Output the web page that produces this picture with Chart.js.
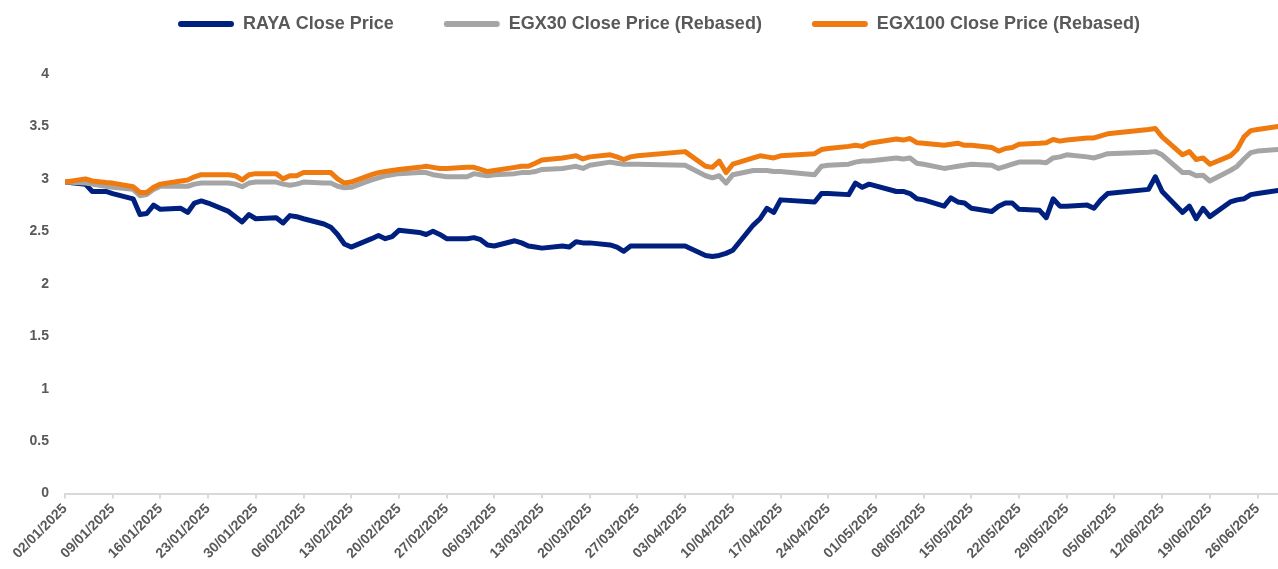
<!DOCTYPE html>
<html>
<head>
<meta charset="utf-8">
<script src="https://cdn.jsdelivr.net/npm/chart.js@4.4.1/dist/chart.umd.min.js"></script>
<style>
  html, body { margin: 0; padding: 0; background: #fff; }
  #wrap { width: 1278px; height: 569px; position: relative; }
</style>
</head>
<body>
<div id="wrap"><canvas id="chart"></canvas></div>
<script>
// trading days (dd/mm/yyyy)
const tradeDates = [
	'02/01/2025','05/01/2025','06/01/2025','08/01/2025','09/01/2025',
	'12/01/2025','13/01/2025','14/01/2025','15/01/2025','16/01/2025',
	'19/01/2025','20/01/2025','21/01/2025','22/01/2025','23/01/2025',
	'26/01/2025','27/01/2025','28/01/2025','29/01/2025','30/01/2025',
	'02/02/2025','03/02/2025','04/02/2025','05/02/2025','06/02/2025',
	'09/02/2025','10/02/2025','11/02/2025','12/02/2025','13/02/2025',
	'16/02/2025','17/02/2025','18/02/2025','19/02/2025','20/02/2025',
	'23/02/2025','24/02/2025','25/02/2025','26/02/2025','27/02/2025',
	'02/03/2025','03/03/2025','04/03/2025','05/03/2025','06/03/2025',
	'09/03/2025','10/03/2025','11/03/2025','12/03/2025','13/03/2025',
	'16/03/2025','17/03/2025','18/03/2025','19/03/2025','20/03/2025',
	'23/03/2025','24/03/2025','25/03/2025','26/03/2025','27/03/2025',
	'03/04/2025',
	'06/04/2025','07/04/2025','08/04/2025','09/04/2025','10/04/2025',
	'13/04/2025','14/04/2025','15/04/2025','16/04/2025','17/04/2025',
	'22/04/2025','23/04/2025','24/04/2025',
	'27/04/2025','28/04/2025','29/04/2025','30/04/2025',
	'04/05/2025','05/05/2025','06/05/2025','07/05/2025','08/05/2025',
	'11/05/2025','12/05/2025','13/05/2025','14/05/2025','15/05/2025',
	'18/05/2025','19/05/2025','20/05/2025','21/05/2025','22/05/2025',
	'25/05/2025','26/05/2025','27/05/2025','28/05/2025','29/05/2025',
	'01/06/2025','02/06/2025','03/06/2025','04/06/2025',
	'10/06/2025','11/06/2025','12/06/2025',
	'15/06/2025','16/06/2025','17/06/2025','18/06/2025','19/06/2025',
	'22/06/2025','23/06/2025','24/06/2025','25/06/2025','26/06/2025',
	'29/06/2025'
];

const rayaClose = [
	2.97, 2.95, 2.88, 2.88, 2.86,
	2.81, 2.66, 2.67, 2.75, 2.71,
	2.72, 2.68, 2.77, 2.79, 2.77,
	2.69, 2.64, 2.59, 2.66, 2.62,
	2.63, 2.58, 2.65, 2.64, 2.62,
	2.57, 2.54, 2.47, 2.38, 2.35,
	2.43, 2.46, 2.43, 2.45, 2.51,
	2.49, 2.47, 2.50, 2.47, 2.43,
	2.43, 2.44, 2.42, 2.37, 2.36,
	2.41, 2.39, 2.36, 2.35, 2.34,
	2.36, 2.35, 2.40, 2.39, 2.39,
	2.37, 2.35, 2.31, 2.36, 2.36,
	2.36,
	2.27, 2.26, 2.27, 2.29, 2.32,
	2.56, 2.62, 2.72, 2.68, 2.80,
	2.78, 2.86, 2.86,
	2.85, 2.96, 2.92, 2.95,
	2.88, 2.88, 2.86, 2.81, 2.80,
	2.74, 2.82, 2.78, 2.77, 2.72,
	2.69, 2.74, 2.77, 2.77, 2.71,
	2.70, 2.63, 2.81, 2.74, 2.74,
	2.75, 2.72, 2.80, 2.86,
	2.90, 3.02, 2.88,
	2.68, 2.74, 2.62, 2.72, 2.64,
	2.78, 2.80, 2.81, 2.85, 2.86,
	2.89
];

const egx30Rebased = [
	2.97, 2.96, 2.95, 2.93, 2.92,
	2.90, 2.84, 2.85, 2.90, 2.93,
	2.93, 2.93, 2.95, 2.96, 2.96,
	2.96, 2.95, 2.925, 2.96, 2.97,
	2.97, 2.95, 2.94, 2.95, 2.97,
	2.96, 2.96, 2.93, 2.915, 2.92,
	2.99, 3.01, 3.03, 3.04, 3.05,
	3.06, 3.06, 3.04, 3.03, 3.02,
	3.02, 3.05, 3.04, 3.03, 3.04,
	3.05, 3.06, 3.06, 3.07, 3.09,
	3.10, 3.11, 3.12, 3.10, 3.13,
	3.16, 3.15, 3.14, 3.14, 3.14,
	3.13,
	3.03, 3.01, 3.03, 2.96, 3.04,
	3.08, 3.08, 3.08, 3.07, 3.07,
	3.04, 3.12, 3.13,
	3.14, 3.16, 3.17, 3.17,
	3.20, 3.19, 3.20, 3.15, 3.14,
	3.10, 3.11, 3.12, 3.13, 3.14,
	3.13, 3.10, 3.12, 3.14, 3.16,
	3.16, 3.155, 3.20, 3.21, 3.23,
	3.21, 3.20, 3.22, 3.24,
	3.255, 3.26, 3.23,
	3.06, 3.06, 3.03, 3.035, 2.98,
	3.08, 3.12, 3.19, 3.25, 3.265,
	3.28
];

const egx100Rebased = [
	2.97, 3.00, 2.98, 2.965, 2.96,
	2.925, 2.87, 2.87, 2.92, 2.95,
	2.98, 2.99, 3.02, 3.04, 3.04,
	3.04, 3.03, 2.99, 3.04, 3.05,
	3.05, 3.00, 3.03, 3.03, 3.06,
	3.06, 3.06, 3.00, 2.96, 2.97,
	3.04, 3.06, 3.07, 3.08, 3.09,
	3.11, 3.12, 3.11, 3.10, 3.10,
	3.11, 3.11, 3.09, 3.07, 3.08,
	3.11, 3.12, 3.12, 3.15, 3.18,
	3.20, 3.21, 3.22, 3.19, 3.21,
	3.23, 3.21, 3.185, 3.21, 3.22,
	3.26,
	3.12, 3.11, 3.17, 3.06, 3.14,
	3.20, 3.22, 3.21, 3.20, 3.22,
	3.24, 3.28, 3.29,
	3.31, 3.32, 3.31, 3.34,
	3.38, 3.37, 3.385, 3.345, 3.34,
	3.32, 3.33, 3.34, 3.32, 3.32,
	3.30, 3.265, 3.29, 3.30, 3.33,
	3.34, 3.345, 3.375, 3.36, 3.37,
	3.39, 3.39, 3.41, 3.43,
	3.47, 3.48, 3.40,
	3.23, 3.26, 3.185, 3.20, 3.14,
	3.22, 3.28, 3.40, 3.46, 3.47,
	3.50
];

const seriesNames = ['RAYA Close Price', 'EGX30 Close Price (Rebased)', 'EGX100 Close Price (Rebased)'];
const seriesColors = ['#00207F', '#A5A5A5', '#EF7B10'];
const yTicks = [0, 0.5, 1, 1.5, 2, 2.5, 3, 3.5, 4];
const axisStart = '02/01/2025';
const axisEnd = '29/06/2025';
const tickEveryDays = 7;

const DAY = 86400000;
const parseDate = (s) => {
	const [d, m, y] = s.split('/').map(Number);
	return Date.UTC(y, m - 1, d);
};
const start = parseDate(axisStart);
const dayOf = (s) => Math.round((parseDate(s) - start) / DAY);
const fmtDay = (v) => {
	const dt = new Date(start + v * DAY);
	const dd = String(dt.getUTCDate()).padStart(2, '0');
	const mm = String(dt.getUTCMonth() + 1).padStart(2, '0');
	return `${dd}/${mm}/${dt.getUTCFullYear()}`;
};
const toPoints = (vals) => tradeDates.map((d, i) => ({x: dayOf(d), y: vals[i]}));

const textColor = '#595959';
const fontFamily = '"Liberation Sans", Arial, sans-serif';

// give the legend extra room underneath, and nudge it right a little
const legendMargin = {
	id: 'legendMargin',
	beforeInit(chart) {
		const fit = chart.legend.fit;
		chart.legend.fit = function () {
			fit.bind(chart.legend)();
			this.height += 31;
		};
	},
	afterLayout(chart) {
		chart.legend.left += 20;
		chart.legend.right += 20;
	}
};

const datasets = [rayaClose, egx30Rebased, egx100Rebased].map((vals, i) => ({
	label: seriesNames[i],
	data: toPoints(vals),
	borderColor: seriesColors[i],
	backgroundColor: seriesColors[i],
	borderWidth: 5,
	pointRadius: 0,
	tension: 0,
	borderJoinStyle: 'round',
	borderCapStyle: 'round',
	order: 3 - i
}));

const ctx = document.getElementById('chart').getContext('2d');
new Chart(ctx, {
	type: 'line',
	data: {datasets},
	plugins: [legendMargin],
	options: {
		responsive: true,
		maintainAspectRatio: false,
		animation: false,
		layout: {padding: {top: -35, left: 0, right: 0, bottom: 5}},
		plugins: {
			tooltip: {enabled: false},
			legend: {
				position: 'top',
				align: 'center',
				labels: {
					color: textColor,
					font: {family: fontFamily, size: 18, weight: 'bold'},
					boxWidth: 56,
					boxHeight: 6,
					padding: 50,
					useBorderRadius: true,
					borderRadius: 3,
					sort: (a, b) => a.datasetIndex - b.datasetIndex,
					generateLabels: (chart) =>
						Chart.defaults.plugins.legend.labels.generateLabels(chart).map(l => ({
							...l, lineWidth: 0, fillStyle: seriesColors[l.datasetIndex]
						}))
				}
			}
		},
		scales: {
			x: {
				type: 'linear',
				min: 0,
				max: dayOf(axisEnd),
				afterBuildTicks: (scale) => {
					const ticks = [];
					for (let v = 0; v <= scale.max; v += tickEveryDays) ticks.push({value: v});
					scale.ticks = ticks;
				},
				ticks: {
					autoSkip: false,
					maxRotation: 45,
					minRotation: 45,
					padding: 2,
					color: textColor,
					font: {family: fontFamily, size: 14, weight: 'bold'},
					callback: (v) => fmtDay(v)
				},
				grid: {
					display: true,
					drawOnChartArea: false,
					drawTicks: true,
					tickLength: 5,
					color: '#D9D9D9',
					lineWidth: 2
				},
				border: {display: true, color: '#D9D9D9', width: 2}
			},
			y: {
				min: yTicks[0],
				max: yTicks[yTicks.length - 1],
				afterBuildTicks: (scale) => {
					scale.ticks = yTicks.map(v => ({value: v}));
				},
				afterFit: (scale) => { scale.width = 65; },
				ticks: {
					padding: 16,
					color: textColor,
					font: {family: fontFamily, size: 14, weight: 'bold'},
					callback: (v) => String(v)
				},
				grid: {display: false, drawTicks: false},
				border: {display: false}
			}
		}
	}
});
</script>
</body>
</html>
